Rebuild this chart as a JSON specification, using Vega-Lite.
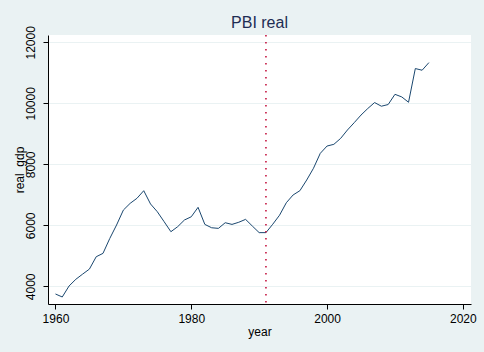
{
  "$schema": "https://vega.github.io/schema/vega-lite/v6.json",
  "width": 423,
  "height": 269,
  "autosize": {"type": "none"},
  "padding": {"left": 48, "top": 35, "right": 13, "bottom": 48},
  "background": "#eaf2f3",
  "title": {"text": "PBI real", "font": "Liberation Sans", "fontSize": 16, "fontWeight": "normal", "color": "#1e2d53", "anchor": "middle", "offset": -5},
  "config": {
    "view": {"fill": "white", "stroke": null},
    "axis": {"labelFont": "Liberation Sans", "titleFont": "Liberation Sans", "labelFontSize": 12, "titleFontSize": 12, "titleFontWeight": "normal", "labelColor": "black", "titleColor": "black", "domainColor": "black", "tickColor": "black", "tickSize": 5, "domainWidth": 1, "tickWidth": 1, "gridColor": "#eaf2f3", "gridWidth": 1}
  },
  "layer": [
    {
      "data": {"values": [
        {"year": 1960, "real_gdp": 3748}, {"year": 1961, "real_gdp": 3650}, {"year": 1962, "real_gdp": 4010},
        {"year": 1963, "real_gdp": 4230}, {"year": 1964, "real_gdp": 4400}, {"year": 1965, "real_gdp": 4565},
        {"year": 1966, "real_gdp": 4970}, {"year": 1967, "real_gdp": 5080}, {"year": 1968, "real_gdp": 5570},
        {"year": 1969, "real_gdp": 6010}, {"year": 1970, "real_gdp": 6500}, {"year": 1971, "real_gdp": 6720},
        {"year": 1972, "real_gdp": 6885}, {"year": 1973, "real_gdp": 7135}, {"year": 1974, "real_gdp": 6700},
        {"year": 1975, "real_gdp": 6445}, {"year": 1976, "real_gdp": 6120}, {"year": 1977, "real_gdp": 5790},
        {"year": 1978, "real_gdp": 5955}, {"year": 1979, "real_gdp": 6175}, {"year": 1980, "real_gdp": 6280},
        {"year": 1981, "real_gdp": 6590}, {"year": 1982, "real_gdp": 6030}, {"year": 1983, "real_gdp": 5920},
        {"year": 1984, "real_gdp": 5900}, {"year": 1985, "real_gdp": 6085}, {"year": 1986, "real_gdp": 6030},
        {"year": 1987, "real_gdp": 6100}, {"year": 1988, "real_gdp": 6195}, {"year": 1989, "real_gdp": 5975},
        {"year": 1990, "real_gdp": 5760}, {"year": 1991, "real_gdp": 5760}, {"year": 1992, "real_gdp": 6035},
        {"year": 1993, "real_gdp": 6330}, {"year": 1994, "real_gdp": 6740}, {"year": 1995, "real_gdp": 6995},
        {"year": 1996, "real_gdp": 7135}, {"year": 1997, "real_gdp": 7485}, {"year": 1998, "real_gdp": 7870},
        {"year": 1999, "real_gdp": 8360}, {"year": 2000, "real_gdp": 8600}, {"year": 2001, "real_gdp": 8655},
        {"year": 2002, "real_gdp": 8850}, {"year": 2003, "real_gdp": 9125}, {"year": 2004, "real_gdp": 9365},
        {"year": 2005, "real_gdp": 9615}, {"year": 2006, "real_gdp": 9830}, {"year": 2007, "real_gdp": 10025},
        {"year": 2008, "real_gdp": 9905}, {"year": 2009, "real_gdp": 9960}, {"year": 2010, "real_gdp": 10295},
        {"year": 2011, "real_gdp": 10210}, {"year": 2012, "real_gdp": 10035}, {"year": 2013, "real_gdp": 11140},
        {"year": 2014, "real_gdp": 11085}, {"year": 2015, "real_gdp": 11335}
      ]},
      "mark": {"type": "line", "color": "#1a476f", "strokeWidth": 1},
      "encoding": {
        "x": {"field": "year", "type": "quantitative", "scale": {"domain": [1958.9, 2021.2], "nice": false, "zero": false},
              "axis": {"values": [1960, 1980, 2000, 2020], "grid": false, "format": "d", "title": "year", "labelPadding": 4, "titlePadding": 2}},
        "y": {"field": "real_gdp", "type": "quantitative", "scale": {"domain": [3420, 12240], "nice": false, "zero": false},
              "axis": {"values": [4000, 6000, 8000, 10000, 12000], "grid": true, "format": "d", "title": "real_gdp", "labelAngle": -90, "labelAlign": "center", "labelBaseline": "bottom", "labelPadding": 6, "titlePadding": -2}}
      }
    },
    {
      "data": {"values": [{"year": 1991}]},
      "mark": {"type": "rule", "color": "#c10534", "strokeWidth": 1.5, "strokeDash": [1.5, 5.5]},
      "encoding": {"x": {"field": "year", "type": "quantitative"}}
    }
  ]
}
